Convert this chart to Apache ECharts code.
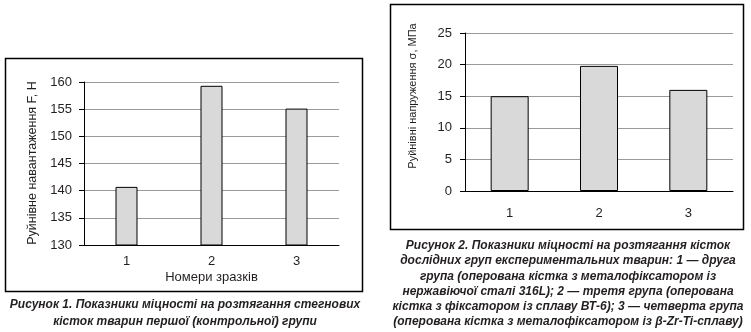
<!DOCTYPE html>
<html>
<head>
<meta charset="utf-8">
<style>
  html, body { margin: 0; padding: 0; background: #fff; }
  #chart { width: 751px; height: 332px; }
</style>
<script src="https://cdn.jsdelivr.net/npm/echarts@6/dist/echarts.min.js"></script>
</head>
<body>
<div id="chart"></div>
<script>
// Figure 1: breaking load of femurs, control group
const samples1 = ['1', '2', '3'];
const load1 = [140.7, 159.3, 155.1];
const load1Ticks = { min: 130, max: 160, interval: 5 };

// Figure 2: breaking stress of bones, experimental groups
const samples2 = ['1', '2', '3'];
const stress2 = [15.0, 19.8, 16.0];
const stress2Ticks = { min: 0, max: 25, interval: 5 };

const yName1 = 'Руйнівне навантаження F, Н';
const xName1 = 'Номери зразків';
const yName2 = 'Руйнівні напруження σ, МПа';

const caption1 = [
  'Рисунок 1. Показники міцності на розтягання стегнових',
  'кісток тварин першої (контрольної) групи'
];
const caption2 = [
  'Рисунок 2. Показники міцності на розтягання кісток',
  'дослідних груп експериментальних тварин: 1 — друга',
  'група (оперована кістка з металофіксатором із',
  'нержавіючої сталі 316L); 2 — третя група (оперована',
  'кістка з фіксатором із сплаву ВТ-6); 3 — четверта група',
  '(оперована кістка з металофіксатором із β-Zr-Ti-сплаву)'
];

const FONT = '"Liberation Sans", Arial, sans-serif';
const INK = '#231f20';

const chart = echarts.init(document.getElementById('chart'), null, { renderer: 'canvas' });

function yAxisCfg(t, gridIndex, fontSize, margin) {
  return {
    type: 'value', gridIndex: gridIndex,
    min: t.min, max: t.max, interval: t.interval,
    axisLine: { show: true, lineStyle: { color: '#000', width: 1 } },
    axisTick: { show: true, inside: false, length: 5, lineStyle: { color: '#000' } },
    axisLabel: { color: INK, fontFamily: FONT, fontSize: fontSize, margin: margin },
    splitLine: { show: true, lineStyle: { color: '#9a9a9a', width: 1 } }
  };
}

function xAxisCfg(cats, gridIndex, fontSize, margin, name) {
  return {
    type: 'category', gridIndex: gridIndex, data: cats,
    axisLine: { show: true, lineStyle: { color: '#000', width: 1 } },
    axisTick: { show: false },
    axisLabel: { color: INK, fontFamily: FONT, fontSize: fontSize, margin: margin },
    name: name || '', nameLocation: 'middle', nameGap: 26,
    nameTextStyle: { color: INK, fontFamily: FONT, fontSize: 13 }
  };
}

const barStyle = { color: '#d9d9d9', borderColor: '#000', borderWidth: 1 };

chart.setOption({
  animation: false,
  grid: [
    { left: 84, top: 82, width: 255, height: 163 },
    { left: 465, top: 33, width: 268, height: 158 }
  ],
  xAxis: [
    xAxisCfg(samples1, 0, 13, 10, xName1),
    xAxisCfg(samples2, 1, 13, 16)
  ],
  yAxis: [
    yAxisCfg(load1Ticks, 0, 13, 12),
    yAxisCfg(stress2Ticks, 1, 13, 13)
  ],
  series: [
    { type: 'bar', xAxisIndex: 0, yAxisIndex: 0, data: load1, barWidth: 22, itemStyle: barStyle },
    { type: 'bar', xAxisIndex: 1, yAxisIndex: 1, data: stress2, barWidth: 38, itemStyle: barStyle }
  ],
  graphic: [
    // frames around both figures
    { type: 'rect', shape: { x: 5.5, y: 58.5, width: 357, height: 233 },
      style: { fill: 'none', stroke: '#000', lineWidth: 1.5 } },
    { type: 'rect', shape: { x: 390.5, y: 4.5, width: 353, height: 225 },
      style: { fill: 'none', stroke: '#000', lineWidth: 1.5 } },
    // rotated y-axis titles
    { type: 'text', x: 33, y: 163, rotation: Math.PI / 2,
      style: { text: yName1, textAlign: 'center', textVerticalAlign: 'middle',
        fontFamily: FONT, fontSize: 12.5, fill: INK } },
    { type: 'text', x: 413, y: 96, rotation: Math.PI / 2,
      style: { text: yName2, textAlign: 'center', textVerticalAlign: 'middle',
        fontFamily: FONT, fontSize: 11, fill: INK } },
    // figure captions
    { type: 'text', x: 185, y: 296,
      style: { text: caption1.join('\n'), textAlign: 'center', textVerticalAlign: 'top',
        fontFamily: FONT, fontSize: 12, fontWeight: 'bold', fontStyle: 'italic',
        lineHeight: 17, fill: INK } },
    { type: 'text', x: 568, y: 238,
      style: { text: caption2.join('\n'), textAlign: 'center', textVerticalAlign: 'top',
        fontFamily: FONT, fontSize: 12, fontWeight: 'bold', fontStyle: 'italic',
        lineHeight: 15.3, fill: INK } }
  ]
});
</script>
</body>
</html>
